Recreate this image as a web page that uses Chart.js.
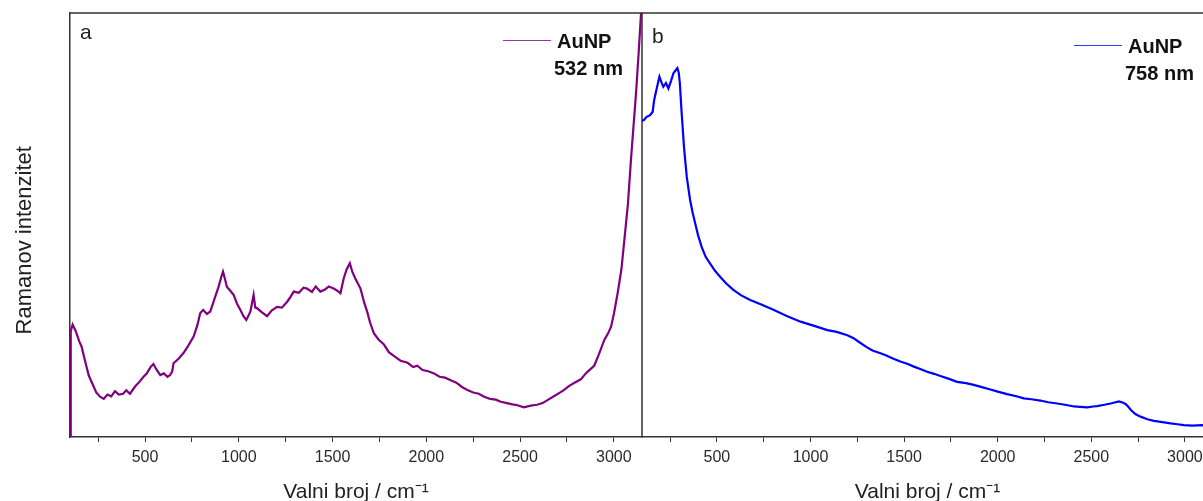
<!DOCTYPE html>
<html>
<head>
<meta charset="utf-8">
<script src="https://cdn.jsdelivr.net/npm/chart.js@4"></script>
<style>
html,body{margin:0;padding:0;background:#fff;overflow:hidden;width:1203px;height:501px;}
.wrap{position:absolute;top:0;height:501px;}
</style>
</head>
<body>
<div class="wrap" style="left:0;width:660px;"><canvas id="ca"></canvas></div>
<div class="wrap" style="left:600px;width:620px;"><canvas id="cb"></canvas></div>
<script>
// ---------- data ----------
const majorTicks = [500, 1000, 1500, 2000, 2500, 3000];
const seriesNameA = 'AuNP';
const laserA = '532 nm';
const seriesNameB = 'AuNP';
const laserB = '758 nm';
const panelLetters = ['a', 'b'];

const aWavenumber = [100,104,114,130,150,162,180,200,220,240,260,280,300,320,340,360,383,400,420,447,470,492,510,530,545,560,581,600,620,634,645,652,680,705,730,759,780,794,810,830,848,870,892,905,916,925,937,955,973,990,1008,1025,1040,1050,1062,1079,1088,1097,1120,1151,1175,1204,1230,1258,1275,1293,1320,1345,1364,1390,1410,1435,1460,1480,1506,1525,1542,1560,1575,1592,1605,1620,1649,1670,1685,1700,1720,1745,1774,1800,1830,1863,1900,1930,1952,1980,2010,2041,2070,2100,2130,2160,2190,2219,2250,2280,2308,2340,2370,2397,2430,2460,2486,2520,2557,2590,2620,2646,2680,2710,2735,2760,2790,2824,2850,2875,2895,2920,2949,2970,2985,3000,3020,3040,3056,3075,3091,3105,3118,3132,3145,3155];
const aIntensity = [0,25,26.5,25,22.5,21.3,18,14.5,12.5,10.5,9.5,9.0,10.0,9.6,10.8,10.0,10.2,11.0,10.2,11.9,13.0,14.2,15.0,16.5,17.2,16.0,14.6,15.0,14.2,14.6,15.5,17.4,18.5,19.8,21.5,23.7,26.5,29.2,30.0,29.0,29.6,32.5,35.4,37.5,39.0,37.5,35.4,34.5,33.5,31.5,30.0,28.5,27.6,28.5,29.6,33.5,30.5,30.4,29.5,28.5,29.8,30.7,30.5,31.9,33.0,34.3,34.0,35.2,35.0,34.2,35.5,34.3,34.8,35.5,35.0,34.5,33.9,37.5,39.5,41.0,39.0,37.5,35.0,31.5,29.5,27.0,24.5,23.0,21.8,20.0,19.0,18.0,17.5,16.5,16.8,15.8,15.5,15.0,14.2,14.0,13.4,12.8,11.8,11.1,10.5,10.2,9.5,9.0,8.8,8.3,8.0,7.7,7.5,7.0,7.4,7.6,8.0,8.7,9.6,10.4,11.1,12.0,12.8,13.6,15.0,16.0,16.8,19.5,22.9,24.5,26.0,29.0,33.9,39.5,46.5,55.0,65.3,73.5,81.0,90.5,100,106];

const bWavenumber = [100,111,125,143,157,165,175,193,205,214,228,241,255,268,280,289,296,302,312,325,339,350,357,370,384,400,419,440,464,490,517,550,588,630,678,740,802,870,947,1020,1090,1140,1197,1230,1259,1300,1331,1370,1402,1440,1480,1520,1552,1590,1623,1660,1694,1740,1783,1830,1872,1920,1961,2000,2050,2100,2139,2180,2228,2270,2318,2360,2407,2440,2478,2510,2531,2570,2603,2630,2647,2670,2683,2700,2710,2735,2763,2800,2834,2880,2924,2960,2995,3040,3093,3150];
const bIntensity = [74.5,74.8,75.5,75.9,76.7,79.5,81.5,85.0,83.5,82.6,83.5,82.2,84.0,85.8,86.5,87.0,86.0,83.5,76.3,68.0,61.4,58.0,55.9,53.0,50.4,47.5,44.8,42.5,40.9,39.2,37.8,36.2,34.7,33.4,32.3,31.2,30.0,28.6,27.2,26.2,25.2,24.8,24.0,23.3,22.4,21.2,20.4,19.8,19.3,18.5,17.8,17.2,16.6,16.0,15.4,14.9,14.4,13.7,13.0,12.7,12.3,11.7,11.2,10.7,10.1,9.6,9.1,8.9,8.6,8.2,7.9,7.6,7.2,7.1,7.0,7.2,7.3,7.6,7.9,8.2,8.4,8.1,7.8,7.0,6.4,5.4,4.8,4.2,3.8,3.5,3.2,3.0,2.8,2.7,2.8,2.6];

// ---------- styling ----------
const FONT = '"Liberation Sans", Arial, Helvetica, sans-serif';
const AXIS = '#333';
const allTicks = majorTicks.flatMap(v => [v - 250, v]);

function pts(xs, ys) { return xs.map((x, i) => ({x, y: ys[i]})); }

const decor = {
  id: 'decor',
  afterDraw(chart, args, o) {
    const {ctx, chartArea: a} = chart;
    ctx.save();
    ctx.strokeStyle = AXIS; ctx.lineWidth = 1.5;
    ctx.beginPath();
    ctx.moveTo(a.left, a.top); ctx.lineTo(a.right + 1, a.top);
    if (o.rightBorder) { ctx.moveTo(a.right, a.top); ctx.lineTo(a.right, a.bottom); }
    ctx.stroke();
    ctx.fillStyle = '#222';
    ctx.textAlign = 'left'; ctx.textBaseline = 'alphabetic';
    ctx.font = '21px ' + FONT;
    ctx.fillText(o.letter, a.left + 10, o.letterY);
    const ds = chart.data.datasets[0];
    ctx.strokeStyle = o.legendColor; ctx.lineWidth = 1.2;
    ctx.beginPath();
    ctx.moveTo(a.right - 139, o.legendY); ctx.lineTo(a.right - 91, o.legendY);
    ctx.stroke();
    ctx.font = 'bold 20px ' + FONT;
    ctx.fillStyle = '#111';
    ctx.fillText(ds.label, a.right - 85, o.legendY + 7.5);
    ctx.fillText(o.laser, a.right - 88, o.legendY + 34.5);
    ctx.restore();
  }
};

function xScale(showTitle) {
  return {
    type: 'linear', min: 100, max: 3150,
    afterBuildTicks: s => { s.ticks = allTicks.map(v => ({value: v})); },
    ticks: {
      autoSkip: false, maxRotation: 0, padding: 6,
      font: {size: 16, family: FONT}, color: '#2a2a2a',
      callback: v => majorTicks.includes(v) ? String(v) : ''
    },
    grid: {display: true, drawOnChartArea: false, drawTicks: true, tickLength: 5, color: AXIS, lineWidth: 1},
    border: {display: true, color: AXIS, width: 1.5},
    title: {display: showTitle, text: 'Valni broj / cm⁻¹', color: '#222',
            font: {size: 21, family: FONT, lineHeight: 1}, padding: {top: 0, bottom: -2}},
    afterFit: s => { s.height = 64; s.paddingLeft = 0; s.paddingRight = 0; }
  };
}

Chart.defaults.font.family = FONT;

new Chart(document.getElementById('ca'), {
  type: 'line',
  data: {datasets: [{label: seriesNameA, data: pts(aWavenumber, aIntensity),
    borderColor: '#800080', borderWidth: 2.2, pointRadius: 0, tension: 0, fill: false}]},
  options: {
    responsive: true, maintainAspectRatio: false, animation: false,
    layout: {padding: {left: 0, right: 18, top: 13, bottom: 0}},
    plugins: {legend: {display: false}, tooltip: {enabled: false},
      decor: {letter: panelLetters[0], letterY: 39, legendY: 40.5, laser: laserA, legendColor: '#9b30a8', rightBorder: true}},
    scales: {
      x: xScale(true),
      y: {
        min: 0, max: 100,
        ticks: {display: false}, grid: {display: false},
        border: {display: true, color: AXIS, width: 1.5},
        title: {display: true, text: 'Ramanov intenzitet\u00a0\u00a0\u00a0\u00a0\u00a0', color: '#222',
                font: {size: 22, family: FONT, lineHeight: 1}, padding: {top: 14, bottom: 0}},
        afterFit: s => { s.width = 70; s.paddingTop = 0; s.paddingBottom = 0; }
      }
    }
  },
  plugins: [decor]
});

new Chart(document.getElementById('cb'), {
  type: 'line',
  data: {datasets: [{label: seriesNameB, data: pts(bWavenumber, bIntensity),
    borderColor: '#0000ff', borderWidth: 2.2, pointRadius: 0, tension: 0, fill: false}]},
  options: {
    responsive: true, maintainAspectRatio: false, animation: false,
    layout: {padding: {left: 42, right: 7, top: 13, bottom: 0}},
    plugins: {legend: {display: false}, tooltip: {enabled: false},
      decor: {letter: panelLetters[1], letterY: 43, legendY: 45.5, laser: laserB, legendColor: '#3a3aff', rightBorder: false}},
    scales: {
      x: xScale(true),
      y: {min: 0, max: 100, display: false}
    }
  },
  plugins: [decor]
});
</script>
</body>
</html>
